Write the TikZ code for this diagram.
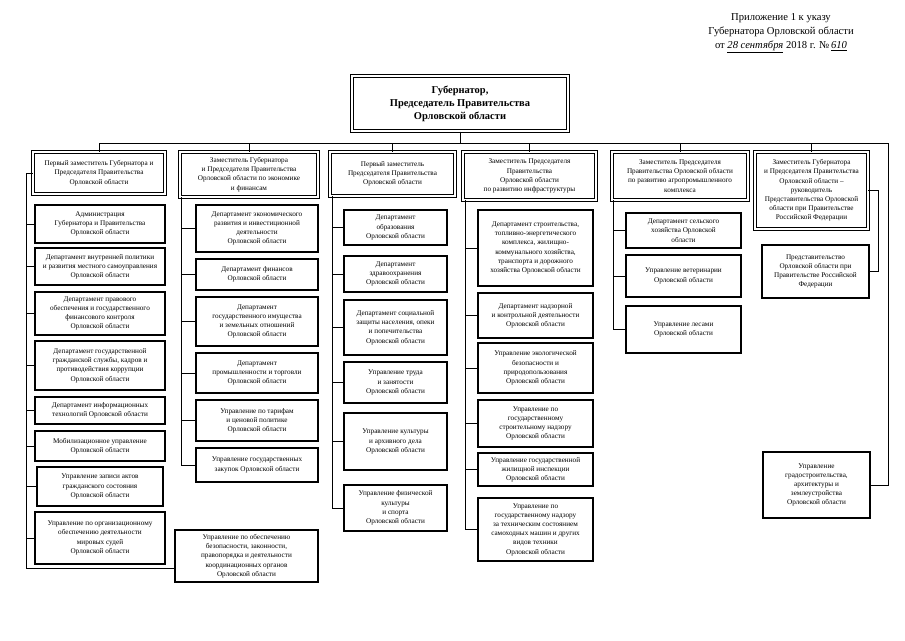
\documentclass[tikz,border=0pt]{standalone}
\usepackage{fontspec}
\setmainfont{Liberation Serif}
\tikzset{
  kid/.style={draw, line width=1.2pt, align=center, inner sep=1pt, font=\fontsize{7.2}{9.2}\selectfont},
  head/.style={draw, line width=0.85pt, double, double distance=1.5pt, align=center, inner sep=1pt, font=\fontsize{7.2}{9.2}\selectfont},
  gov/.style={draw, line width=1pt, double, double distance=2pt, align=center, font=\fontsize{10.5}{13}\selectfont\bfseries},
  link/.style={line width=0.6pt}
}
\begin{document}
\begin{tikzpicture}[x=1pt, y=-1pt]
    \useasboundingbox (0,0) rectangle (905,640);

    % header
    \node[align=center, font=\fontsize{10.6}{14}\selectfont] (hdr) at (781,33)
        {Приложение 1 к указу\\Губернатора Орловской области\\от \underline{\textit{28 сентября}} 2018 г. №\,\underline{\textit{610}}};

    % governor
    \node[gov, minimum width=216, minimum height=55] (gov) at (460,103.5)
        {Губернатор,\\Председатель Правительства\\Орловской области};

    % column 1
    \node[head, minimum width=132, minimum height=42] (h1) at (99,173)
        {Первый заместитель Губернатора и\\Председателя Правительства\\Орловской области};
    \node[kid, minimum width=130, minimum height=38] (a1) at (100,224)
        {Администрация\\Губернатора и Правительства\\Орловской области};
    \node[kid, minimum width=130, minimum height=37] (a2) at (100,266.5)
        {Департамент внутренней политики\\и развития местного самоуправления\\Орловской области};
    \node[kid, minimum width=130, minimum height=43] (a3) at (100,313.5)
        {Департамент правового\\обеспечения и государственного\\финансового контроля\\Орловской области};
    \node[kid, minimum width=130, minimum height=49] (a4) at (100,365.5)
        {Департамент государственной\\гражданской службы, кадров и\\противодействия коррупции\\Орловской области};
    \node[kid, minimum width=130, minimum height=27] (a5) at (100,410.5)
        {Департамент информационных\\технологий Орловской области};
    \node[kid, minimum width=130, minimum height=30] (a6) at (100,446)
        {Мобилизационное управление\\Орловской области};
    \node[kid, minimum width=126, minimum height=39] (a7) at (100,486.5)
        {Управление записи актов\\гражданского состояния\\Орловской области};
    \node[kid, minimum width=130, minimum height=52] (a8) at (100,538)
        {Управление по организационному\\обеспечению деятельности\\мировых судей\\Орловской области};

    % column 2
    \node[head, minimum width=138, minimum height=45] (h2) at (249,174.5)
        {Заместитель Губернатора\\и Председателя Правительства\\Орловской области по экономике\\и финансам};
    \node[kid, minimum width=122, minimum height=47] (b1) at (257,228.5)
        {Департамент экономического\\развития и инвестиционной\\деятельности\\Орловской области};
    \node[kid, minimum width=122, minimum height=31] (b2) at (257,274.5)
        {Департамент финансов\\Орловской области};
    \node[kid, minimum width=122, minimum height=49] (b3) at (257,321.5)
        {Департамент\\государственного имущества\\и земельных отношений\\Орловской области};
    \node[kid, minimum width=122, minimum height=40] (b4) at (257,373)
        {Департамент\\промышленности и торговли\\Орловской области};
    \node[kid, minimum width=122, minimum height=41] (b5) at (257,420.5)
        {Управление по тарифам\\и ценовой политике\\Орловской области};
    \node[kid, minimum width=122, minimum height=34] (b6) at (257,465)
        {Управление государственных\\закупок Орловской области};
    \node[kid, minimum width=143, minimum height=52] (bez) at (246.5,556)
        {Управление по обеспечению\\безопасности, законности,\\правопорядка и деятельности\\координационных органов\\Орловской области};

    % column 3
    \node[head, minimum width=125, minimum height=44] (h3) at (392.5,174)
        {Первый заместитель\\Председателя Правительства\\Орловской области};
    \node[kid, minimum width=103, minimum height=35] (c1) at (395.5,227.5)
        {Департамент\\образования\\Орловской области};
    \node[kid, minimum width=103, minimum height=36] (c2) at (395.5,274)
        {Департамент\\здравоохранения\\Орловской области};
    \node[kid, minimum width=103, minimum height=55] (c3) at (395.5,327.5)
        {Департамент социальной\\защиты населения, опеки\\и попечительства\\Орловской области};
    \node[kid, minimum width=103, minimum height=41] (c4) at (395.5,382.5)
        {Управление труда\\и занятости\\Орловской области};
    \node[kid, minimum width=103, minimum height=57] (c5) at (395.5,441.5)
        {Управление культуры\\и архивного дела\\Орловской области};
    \node[kid, minimum width=103, minimum height=46] (c6) at (395.5,508)
        {Управление физической\\культуры\\и спорта\\Орловской области};

    % column 4
    \node[head, minimum width=133, minimum height=48] (h4) at (529.5,176)
        {Заместитель Председателя\\Правительства\\Орловской области\\по развитию инфраструктуры};
    \node[kid, minimum width=115, minimum height=76] (d1) at (535.5,248)
        {Департамент строительства,\\топливно-энергетического\\комплекса, жилищно-\\коммунального хозяйства,\\транспорта и дорожного\\хозяйства Орловской области};
    \node[kid, minimum width=115, minimum height=45] (d2) at (535.5,315.5)
        {Департамент надзорной\\и контрольной деятельности\\Орловской области};
    \node[kid, minimum width=115, minimum height=50] (d3) at (535.5,368)
        {Управление экологической\\безопасности и\\природопользования\\Орловской области};
    \node[kid, minimum width=115, minimum height=47] (d4) at (535.5,423.5)
        {Управление по\\государственному\\строительному надзору\\Орловской области};
    \node[kid, minimum width=115, minimum height=33] (d5) at (535.5,469.5)
        {Управление государственной\\жилищной инспекции\\Орловской области};
    \node[kid, minimum width=115, minimum height=63] (d6) at (535.5,529.5)
        {Управление по\\государственному надзору\\за техническим состоянием\\самоходных машин и других\\видов техники\\Орловской области};

    % column 5
    \node[head, minimum width=136, minimum height=48] (h5) at (680,176)
        {Заместитель Председателя\\Правительства Орловской области\\по развитию агропромышленного\\комплекса};
    \node[kid, minimum width=115, minimum height=35] (e1) at (683.5,230.5)
        {Департамент сельского\\хозяйства Орловской\\области};
    \node[kid, minimum width=115, minimum height=42] (e2) at (683.5,276)
        {Управление ветеринарии\\Орловской области};
    \node[kid, minimum width=115, minimum height=47] (e3) at (683.5,329.5)
        {Управление лесами\\Орловской области};

    % column 6
    \node[head, minimum width=113, minimum height=77] (h6) at (811.5,190.5)
        {Заместитель Губернатора\\и Председателя Правительства\\Орловской области --\\руководитель\\Представительства Орловской\\области при Правительстве\\Российской Федерации};
    \node[kid, minimum width=107, minimum height=53] (f1) at (815.5,271.5)
        {Представительство\\Орловской области при\\Правительстве Российской\\Федерации};
    \node[kid, minimum width=107, minimum height=66] (f2) at (816.5,485)
        {Управление\\градостроительства,\\архитектуры и\\землеустройства\\Орловской области};

    % bus
    \coordinate (busR) at (888,143);
    \draw[link] (gov.south) -- (gov.south |- busR);
    \draw[link] (h1.north) |- (busR) |- (f2.east);
    \foreach \n in {h2,h3,h4,h5,h6}
        \draw[link] (\n.north) -- (\n.north |- busR);

    % trunks
    \coordinate (t1) at (26,568);
    \draw[link] (h1.west) -| (t1) -- (t1 -| bez.west);
    \foreach \i in {1,...,8}
        \draw[link] (a\i.west) -- (a\i.west -| t1);

    \coordinate (t2) at ([xshift=1.5pt]h2.south west);
    \draw[link] (t2) |- (b6.west);
    \foreach \i in {1,...,5}
        \draw[link] (b\i.west) -- (b\i.west -| t2);

    \coordinate (t3) at ([xshift=3pt]h3.south west);
    \draw[link] (t3) |- (c6.west);
    \foreach \i in {1,...,5}
        \draw[link] (c\i.west) -- (c\i.west -| t3);

    \coordinate (t4) at ([xshift=3pt]h4.south west);
    \draw[link] (t4) |- (d6.west);
    \foreach \i in {1,...,5}
        \draw[link] (d\i.west) -- (d\i.west -| t4);

    \coordinate (t5) at ([xshift=2pt]h5.south west);
    \draw[link] (t5) |- (e3.west);
    \foreach \i in {1,2}
        \draw[link] (e\i.west) -- (e\i.west -| t5);

    \draw[link] (h6.east) -- ++(10,0) |- (f1.east);
\end{tikzpicture}
\end{document}
